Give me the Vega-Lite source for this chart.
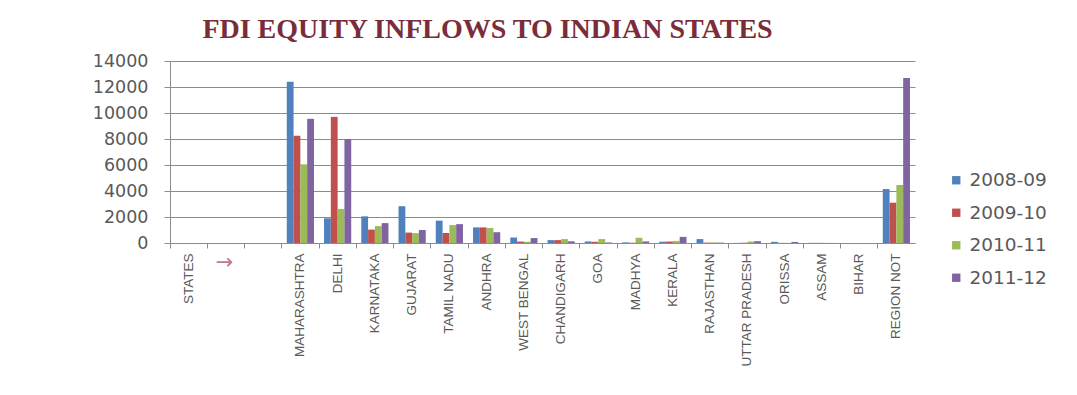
{
  "$schema": "https://vega.github.io/schema/vega-lite/v6.json",
  "autosize": "none",
  "width": 745,
  "height": 182,
  "padding": {"left": 170, "top": 61, "right": 162, "bottom": 152},
  "background": "white",
  "title": {
    "text": "FDI EQUITY INFLOWS TO INDIAN STATES",
    "font": "Liberation Serif",
    "fontSize": 28,
    "fontWeight": "bold",
    "color": "#7B2C3A",
    "anchor": "middle",
    "baseline": "alphabetic",
    "offset": 20,
    "dx": -55,
    "dy": 34
  },
  "data": {
    "values": [
      {"state": "MAHARASHTRA", "year": "2008-09", "value": 12400},
      {"state": "MAHARASHTRA", "year": "2009-10", "value": 8250},
      {"state": "MAHARASHTRA", "year": "2010-11", "value": 6050},
      {"state": "MAHARASHTRA", "year": "2011-12", "value": 9550},
      {"state": "DELHI", "year": "2008-09", "value": 1900},
      {"state": "DELHI", "year": "2009-10", "value": 9700},
      {"state": "DELHI", "year": "2010-11", "value": 2620},
      {"state": "DELHI", "year": "2011-12", "value": 8000},
      {"state": "KARNATAKA", "year": "2008-09", "value": 2050},
      {"state": "KARNATAKA", "year": "2009-10", "value": 1030},
      {"state": "KARNATAKA", "year": "2010-11", "value": 1300},
      {"state": "KARNATAKA", "year": "2011-12", "value": 1530},
      {"state": "GUJARAT", "year": "2008-09", "value": 2830},
      {"state": "GUJARAT", "year": "2009-10", "value": 800},
      {"state": "GUJARAT", "year": "2010-11", "value": 760},
      {"state": "GUJARAT", "year": "2011-12", "value": 1000},
      {"state": "TAMIL NADU", "year": "2008-09", "value": 1720},
      {"state": "TAMIL NADU", "year": "2009-10", "value": 770},
      {"state": "TAMIL NADU", "year": "2010-11", "value": 1380},
      {"state": "TAMIL NADU", "year": "2011-12", "value": 1450},
      {"state": "ANDHRA", "year": "2008-09", "value": 1200},
      {"state": "ANDHRA", "year": "2009-10", "value": 1200},
      {"state": "ANDHRA", "year": "2010-11", "value": 1150},
      {"state": "ANDHRA", "year": "2011-12", "value": 830},
      {"state": "WEST BENGAL", "year": "2008-09", "value": 420},
      {"state": "WEST BENGAL", "year": "2009-10", "value": 110},
      {"state": "WEST BENGAL", "year": "2010-11", "value": 100},
      {"state": "WEST BENGAL", "year": "2011-12", "value": 380},
      {"state": "CHANDIGARH", "year": "2008-09", "value": 220},
      {"state": "CHANDIGARH", "year": "2009-10", "value": 220},
      {"state": "CHANDIGARH", "year": "2010-11", "value": 300},
      {"state": "CHANDIGARH", "year": "2011-12", "value": 130},
      {"state": "GOA", "year": "2008-09", "value": 120},
      {"state": "GOA", "year": "2009-10", "value": 90},
      {"state": "GOA", "year": "2010-11", "value": 300},
      {"state": "GOA", "year": "2011-12", "value": 40},
      {"state": "MADHYA", "year": "2008-09", "value": 50},
      {"state": "MADHYA", "year": "2009-10", "value": 20},
      {"state": "MADHYA", "year": "2010-11", "value": 400},
      {"state": "MADHYA", "year": "2011-12", "value": 120},
      {"state": "KERALA", "year": "2008-09", "value": 100},
      {"state": "KERALA", "year": "2009-10", "value": 110},
      {"state": "KERALA", "year": "2010-11", "value": 160},
      {"state": "KERALA", "year": "2011-12", "value": 470},
      {"state": "RAJASTHAN", "year": "2008-09", "value": 300},
      {"state": "RAJASTHAN", "year": "2009-10", "value": 30},
      {"state": "RAJASTHAN", "year": "2010-11", "value": 50},
      {"state": "RAJASTHAN", "year": "2011-12", "value": 30},
      {"state": "UTTAR PRADESH", "year": "2008-09", "value": 10},
      {"state": "UTTAR PRADESH", "year": "2009-10", "value": 20},
      {"state": "UTTAR PRADESH", "year": "2010-11", "value": 110},
      {"state": "UTTAR PRADESH", "year": "2011-12", "value": 140},
      {"state": "ORISSA", "year": "2008-09", "value": 90},
      {"state": "ORISSA", "year": "2009-10", "value": 10},
      {"state": "ORISSA", "year": "2010-11", "value": 10},
      {"state": "ORISSA", "year": "2011-12", "value": 80},
      {"state": "ASSAM", "year": "2008-09", "value": 10},
      {"state": "ASSAM", "year": "2009-10", "value": 10},
      {"state": "ASSAM", "year": "2010-11", "value": 10},
      {"state": "ASSAM", "year": "2011-12", "value": 5},
      {"state": "BIHAR", "year": "2008-09", "value": 0},
      {"state": "BIHAR", "year": "2009-10", "value": 0},
      {"state": "BIHAR", "year": "2010-11", "value": 0},
      {"state": "BIHAR", "year": "2011-12", "value": 0},
      {"state": "REGION NOT", "year": "2008-09", "value": 4150},
      {"state": "REGION NOT", "year": "2009-10", "value": 3100},
      {"state": "REGION NOT", "year": "2010-11", "value": 4460},
      {"state": "REGION NOT", "year": "2011-12", "value": 12700}
    ]
  },
  "mark": {"type": "bar"},
  "encoding": {
    "x": {
      "field": "state",
      "type": "nominal",
      "scale": {
        "domain": ["STATES", "↓", " ", "MAHARASHTRA", "DELHI", "KARNATAKA", "GUJARAT", "TAMIL NADU", "ANDHRA", "WEST BENGAL", "CHANDIGARH", "GOA", "MADHYA", "KERALA", "RAJASTHAN", "UTTAR PRADESH", "ORISSA", "ASSAM", "BIHAR", "REGION NOT"],
        "paddingInner": 0,
        "paddingOuter": 0
      },
      "axis": {
        "title": null,
        "bandPosition": 0,
        "labelAngle": -90,
        "labelAlign": "right",
        "labelBaseline": "middle",
        "labelFont": {"condition": {"test": "datum.value == '↓'", "value": "DejaVu Sans"}, "value": "Liberation Sans"},
        "labelFontSize": {"condition": {"test": "datum.value == '↓'", "value": 21}, "value": 13.5},
        "labelColor": {"condition": {"test": "datum.value == '↓'", "value": "#C07A8A"}, "value": "#595959"},
        "labelPadding": 5,
        "tickSize": 5,
        "tickColor": "#8C8C8C",
        "domainColor": "#8C8C8C",
        "grid": false
      }
    },
    "xOffset": {
      "field": "year",
      "type": "nominal",
      "scale": {"paddingInner": 0, "paddingOuter": 0.74}
    },
    "y": {
      "field": "value",
      "type": "quantitative",
      "scale": {"domain": [0, 14000]},
      "axis": {
        "title": null,
        "values": [0, 2000, 4000, 6000, 8000, 10000, 12000, 14000],
        "format": "d",
        "labelFont": "DejaVu Sans",
        "labelFontSize": 17.5,
        "labelColor": "#595959",
        "labelPadding": 16,
        "tickSize": 6,
        "tickColor": "#8C8C8C",
        "domainColor": "#8C8C8C",
        "gridColor": "#8C8C8C",
        "grid": true
      }
    },
    "color": {
      "field": "year",
      "type": "nominal",
      "scale": {
        "domain": ["2008-09", "2009-10", "2010-11", "2011-12"],
        "range": ["#4F81BD", "#C0504D", "#9BBB59", "#8064A2"]
      },
      "legend": {
        "title": null,
        "orient": "none",
        "legendX": 777,
        "legendY": 110,
        "symbolType": "square",
        "symbolSize": 70,
        "symbolStrokeWidth": 0,
        "labelFont": "DejaVu Sans",
        "labelFontSize": 18.5,
        "labelColor": "#595959",
        "rowPadding": 13.5,
        "labelOffset": 4
      }
    }
  },
  "config": {
    "view": {"stroke": null}
  }
}
